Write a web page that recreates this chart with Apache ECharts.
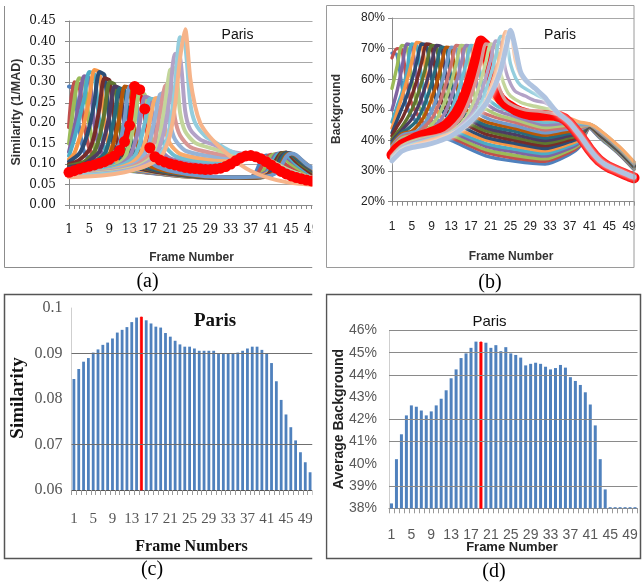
<!DOCTYPE html>
<html><head><meta charset="utf-8">
<script src="https://cdn.jsdelivr.net/npm/echarts@6/dist/echarts.min.js"></script>
<style>html,body{margin:0;padding:0;background:#fff}#c{width:644px;height:585px}</style>
</head><body><div id="c"></div>
<script>
// ---------- shared categories ----------
const frames = ['1','2','3','4','5','6','7','8','9','10','11','12','13','14','15','16','17','18','19','20','21','22','23','24','25','26','27','28','29','30','31','32','33','34','35','36','37','38','39','40','41','42','43','44','45','46','47','48','49','50'];

// ---------- (a) Similarity (1/MAD): one line per key frame, [frame, value] read points ----------
const simKey01 = [[1,.29],[2,.285],[3,.19],[4,.13],[6,.10],[10,.088],[16,.08],[22,.072],[28,.067],[34,.066],[37,.068],[38,.08],[39,.108],[40,.121],[41,.118],[43,.1],[46,.08],[50,.065]];
const simKey02 = [[1,.19],[2,.30],[3,.295],[4,.2],[5,.14],[7,.10],[11,.088],[17,.079],[23,.071],[29,.067],[35,.067],[38,.072],[39,.09],[40,.115],[41,.123],[42,.118],[44,.098],[47,.078],[50,.066]];
const simKey03 = [[1,.15],[2,.25],[3,.31],[4,.305],[5,.2],[6,.14],[8,.10],[12,.087],[18,.078],[24,.07],[30,.067],[36,.067],[39,.075],[40,.095],[41,.12],[42,.125],[43,.12],[45,.1],[48,.078],[50,.067]];
const simKey04 = [[1,.13],[2,.185],[3,.25],[4,.315],[5,.31],[6,.2],[7,.14],[9,.10],[13,.087],[19,.077],[25,.07],[31,.067],[37,.068],[40,.08],[41,.105],[42,.124],[43,.126],[45,.108],[48,.082],[50,.068]];
const simKey05 = [[1,.12],[2,.16],[3,.21],[4,.26],[5,.325],[6,.32],[7,.205],[8,.14],[10,.10],[14,.087],[20,.077],[26,.07],[32,.068],[38,.069],[40,.076],[41,.095],[42,.12],[43,.127],[44,.124],[46,.1],[49,.075],[50,.07]];
const simKey06 = [[1,.112],[2,.125],[3,.16],[4,.2],[5,.26],[6,.33],[7,.325],[8,.21],[9,.14],[11,.10],[15,.086],[21,.076],[27,.069],[33,.067],[38,.068],[41,.082],[42,.108],[43,.126],[44,.128],[46,.108],[49,.078],[50,.071]];
const simKey07 = [[1,.106],[3,.125],[4,.15],[5,.19],[6,.25],[7,.325],[8,.318],[9,.205],[10,.14],[12,.10],[16,.086],[22,.075],[28,.068],[34,.066],[39,.069],[41,.078],[42,.098],[43,.122],[44,.128],[45,.124],[47,.1],[50,.072]];
const simKey08 = [[1,.10],[3,.11],[5,.135],[6,.17],[7,.235],[8,.31],[9,.305],[10,.2],[11,.135],[13,.10],[17,.085],[23,.074],[29,.068],[35,.067],[40,.07],[41,.085],[42,.11],[43,.127],[44,.128],[46,.106],[49,.078],[50,.074]];
const simKey09 = [[1,.096],[4,.106],[6,.13],[7,.165],[8,.225],[9,.30],[10,.295],[11,.195],[12,.132],[14,.098],[18,.084],[24,.073],[30,.068],[36,.067],[40,.071],[41,.08],[42,.1],[43,.124],[44,.128],[45,.124],[47,.1],[50,.076]];
const simKey10 = [[1,.093],[4,.1],[7,.13],[8,.165],[9,.22],[10,.29],[11,.285],[12,.19],[13,.13],[15,.097],[19,.083],[25,.072],[31,.068],[37,.067],[40,.072],[42,.092],[43,.118],[44,.127],[45,.125],[47,.104],[50,.078]];
const simKey11 = [[1,.09],[5,.098],[8,.125],[9,.16],[10,.215],[11,.285],[12,.28],[13,.185],[14,.128],[16,.096],[20,.082],[26,.071],[32,.067],[38,.067],[41,.073],[42,.088],[43,.112],[44,.126],[45,.125],[47,.106],[50,.08]];
const simKey12 = [[1,.087],[5,.095],[9,.125],[10,.16],[11,.215],[12,.29],[13,.285],[14,.185],[15,.128],[17,.096],[21,.081],[27,.07],[33,.067],[39,.068],[42,.08],[43,.1],[44,.122],[45,.126],[46,.12],[48,.1],[50,.082]];
const simKey13 = [[1,.084],[5,.092],[9,.108],[11,.15],[12,.21],[13,.29],[14,.285],[15,.18],[16,.125],[18,.097],[22,.081],[28,.07],[34,.068],[40,.07],[42,.078],[43,.095],[44,.118],[45,.126],[46,.122],[48,.1],[50,.085]];
const simKey14 = [.080,.084,.088,.092,.095,.098,.102,.106,.112,.120,.133,.155,.195,.290,.282,.235,.140,.118,.110,.105,.101,.098,.095,.092,.090,.089,.088,.087,.087,.088,.090,.094,.100,.108,.115,.120,.121,.118,.113,.106,.098,.090,.082,.076,.071,.067,.064,.061,.059,.057];
const simKey15 = [[1,.078],[6,.085],[10,.095],[12,.115],[13,.15],[14,.205],[15,.275],[16,.27],[17,.185],[18,.135],[20,.108],[24,.098],[28,.095],[31,.1],[34,.113],[36,.12],[38,.119],[40,.11],[42,.095],[45,.078],[50,.06]];
const simKey16 = [[1,.077],[7,.085],[11,.097],[13,.118],[14,.15],[15,.2],[16,.265],[17,.26],[18,.18],[19,.138],[21,.114],[25,.104],[29,.1],[32,.105],[35,.118],[37,.122],[39,.115],[42,.096],[45,.079],[50,.061]];
const simKey17 = [[1,.076],[8,.086],[12,.1],[14,.12],[15,.15],[16,.2],[17,.26],[18,.258],[19,.185],[20,.145],[22,.12],[26,.109],[30,.106],[33,.11],[36,.121],[38,.122],[40,.112],[43,.091],[46,.075],[50,.062]];
const simKey18 = [[1,.075],[8,.083],[13,.1],[15,.122],[16,.152],[17,.205],[18,.26],[19,.262],[20,.19],[21,.15],[23,.125],[27,.114],[31,.11],[34,.116],[36,.122],[38,.123],[40,.113],[43,.091],[46,.075],[50,.062]];
const simKey19 = [[1,.074],[9,.084],[14,.1],[16,.125],[17,.157],[18,.213],[19,.27],[20,.275],[21,.2],[22,.16],[24,.133],[28,.121],[32,.117],[35,.121],[37,.124],[39,.118],[42,.099],[45,.081],[50,.063]];
const simKey20 = [[1,.073],[9,.082],[14,.096],[17,.125],[18,.16],[19,.225],[20,.29],[21,.3],[22,.21],[23,.17],[25,.142],[29,.128],[33,.121],[36,.123],[38,.124],[40,.115],[43,.095],[46,.077],[50,.063]];
const simKey21 = [[1,.072],[10,.082],[15,.097],[18,.125],[19,.17],[20,.245],[21,.33],[22,.335],[23,.225],[24,.18],[26,.152],[30,.136],[33,.126],[36,.124],[38,.121],[41,.107],[44,.088],[47,.074],[50,.064]];
const simKey22 = [[1,.071],[10,.08],[15,.094],[18,.117],[19,.145],[20,.19],[21,.27],[22,.37],[23,.36],[24,.23],[25,.185],[27,.16],[30,.146],[33,.131],[36,.124],[38,.12],[41,.105],[44,.085],[47,.072],[50,.062]];
const simKey23 = [[1,.07],[10,.078],[15,.09],[18,.108],[20,.145],[21,.195],[22,.29],[23,.41],[24,.39],[25,.25],[26,.2],[28,.168],[30,.153],[32,.138],[34,.126],[36,.12],[38,.115],[41,.1],[44,.08],[47,.068],[50,.06]];
const simKey24 = [[1,.068],[8,.073],[12,.08],[15,.09],[17,.1],[19,.115],[20,.135],[21,.17],[22,.245],[23,.36],[24,.43],[25,.31],[26,.24],[27,.2],[28,.18],[29,.165],[30,.152],[31,.14],[33,.118],[35,.098],[37,.083],[40,.068],[44,.056],[50,.048]];
const simHighlight = 14;

// ---------- (b) Background (%): one line per key frame ----------
const bgKey01 = [[1,68.5],[2,68],[3,58],[4,51],[6,46],[9,42.5],[13,40.0],[20,35.0],[26,33.2],[32,32.3],[37,35.5],[39,38.0],[41,44.0],[43,41.0],[47,35.5],[50,30.5]];
const bgKey02 = [[1,67],[2,70],[3,69.5],[4,59],[5,52],[8,44.5],[13,41.0],[20,36.1],[26,34.2],[32,33.2],[37,36.2],[39,38.5],[41,44.1],[43,41.2],[47,35.7],[50,30.7]];
const bgKey03 = [[1,57],[2,64],[3,71],[4,70.5],[5,60],[6,52.5],[9,45],[13,41.9],[20,37.0],[26,35.1],[32,34.0],[37,36.9],[39,38.9],[41,44.2],[43,41.3],[47,35.8],[50,30.8]];
const bgKey04 = [[1,50],[2,56],[3,63.5],[4,71.5],[5,71],[6,60.5],[7,53],[9,46.5],[13,42.9],[20,38.1],[26,36.2],[32,34.9],[37,37.5],[39,39.4],[41,44.2],[43,41.5],[47,36.0],[50,31.0]];
const bgKey05 = [[1,46],[2,51],[3,55.5],[4,62.5],[5,71.5],[6,71],[7,60.5],[8,53],[10,47],[13,43.8],[20,39.0],[26,37.1],[32,35.7],[37,38.2],[39,39.9],[41,44.3],[43,41.6],[47,36.1],[50,31.1]];
const bgKey06 = [[1,44],[2,49],[3,54],[4,59.5],[5,65.5],[6,72],[7,71.5],[8,61],[9,53.5],[11,47.5],[13,44.8],[20,40.1],[26,38.1],[32,36.6],[37,38.9],[39,40.4],[41,44.4],[43,41.8],[47,36.3],[50,31.3]];
const bgKey07 = [[1,42.5],[2,46.5],[3,50.5],[4,54.5],[5,59.5],[6,65.5],[7,71.5],[8,71],[9,60.5],[10,53],[12,48],[14,45.5],[20,41.0],[26,39.0],[32,37.4],[37,39.6],[39,40.8],[41,44.5],[43,41.9],[47,36.4],[50,31.4]];
const bgKey08 = [[1,41.5],[2,44.5],[3,47],[4,50.5],[5,54.5],[6,59.5],[7,65.5],[8,71.5],[9,71],[10,60.5],[11,53],[13,48],[15,46],[20,42.1],[26,40.0],[32,38.3],[37,40.3],[39,41.3],[41,44.6],[43,42.0],[47,36.6],[50,31.6]];
const bgKey09 = [[1,40.5],[3,44.5],[4,47],[5,50],[6,54],[7,59],[8,65],[9,71],[10,70.5],[11,60],[12,52.5],[14,48],[16,46],[20,43.1],[26,40.9],[32,39.1],[37,40.9],[39,41.8],[41,44.6],[43,42.2],[47,36.7],[50,31.7]];
const bgKey10 = [[1,39.8],[3,43.3],[5,47],[6,50],[7,54],[8,59],[9,65],[10,71],[11,70.5],[12,60],[13,52.5],[15,48.5],[20,44.1],[26,41.9],[32,40.0],[37,41.6],[39,42.2],[41,44.7],[43,42.4],[47,36.9],[50,31.9]];
const bgKey11 = [[1,39.2],[3,42.7],[4,43.5],[6,46.5],[7,49.5],[8,53.5],[9,58.5],[10,64.5],[11,70.5],[12,70],[13,59.5],[14,52],[16,48.5],[20,45.0],[26,42.9],[32,40.8],[37,42.3],[39,42.7],[41,44.8],[43,42.5],[47,37.0],[50,32.0]];
const bgKey12 = [[1,38.7],[3,42.2],[5,43],[7,46.5],[8,49.5],[9,53.5],[10,58.5],[11,64.5],[12,70.5],[13,70],[14,59.5],[15,52],[17,48.8],[20,46.1],[26,43.9],[32,41.7],[37,43.0],[39,43.2],[41,44.9],[43,42.7],[47,37.2],[50,32.2]];
const bgKey13 = [[1,38.2],[3,41.7],[6,43],[8,46.5],[9,49.5],[10,53.5],[11,58.5],[12,64.5],[13,70.5],[14,70],[15,59.5],[16,52.5],[18,49.3],[21,46.7],[26,44.8],[32,42.5],[37,43.7],[39,43.6],[41,45.0],[43,42.8],[47,37.3],[50,32.3]];
const bgKey14 = [[1,37.7],[3,41.2],[6,42.3],[7,43.5],[9,47],[10,50],[11,54],[12,59],[13,65],[14,71],[15,70.5],[16,60],[17,53],[19,49.5],[22,47.5],[26,45.9],[32,43.4],[37,44.3],[39,44.1],[41,45.0],[43,43.0],[47,37.5],[50,32.5]];
const bgKey15 = [[1,37.2],[3,40.7],[6,41.9],[8,43.5],[10,47],[11,50],[12,54],[13,59],[14,65],[15,71],[16,70.5],[17,60],[18,53.5],[20,50.3],[23,48],[26,46.8],[32,44.2],[37,45.0],[39,44.6],[41,45.1],[43,43.1],[47,37.6],[50,32.6]];
const bgKey16 = [[1,36.8],[3,40.2],[6,41.5],[9,43.5],[11,47],[12,50],[13,54],[14,59],[15,65],[16,71],[17,70.5],[18,60],[19,54],[21,51],[23,49.3],[26,47.8],[32,45.1],[37,45.7],[39,45.1],[41,45.2],[43,43.2],[47,37.8],[50,32.8]];
const bgKey17 = [[1,36.4],[3,39.8],[6,41.2],[10,43.5],[12,47],[13,50],[14,54],[15,59],[16,65],[17,71],[18,70.5],[19,60.5],[20,54.5],[22,51.5],[24,50],[26,48.7],[32,45.9],[37,46.4],[39,45.5],[41,45.3],[43,43.4],[47,37.9],[50,32.9]];
const bgKey18 = [[1,36],[3,39.4],[6,40.8],[11,44],[13,47.5],[14,50.5],[15,54.5],[16,59.5],[17,65.5],[18,71.5],[19,71],[20,61],[21,55],[23,52],[25,50.3],[28,48.8],[32,46.8],[37,47.1],[39,46.0],[41,45.4],[43,43.5],[47,38.0],[50,33.0]];
const bgKey19 = [35.3,37.3,38.6,39.3,40.2,41.0,41.5,42.0,42.6,43.2,44.0,45.0,46.6,48.8,51.8,55.5,60.5,66.5,72.5,71.0,62.0,56.0,53.5,52.0,51.0,50.0,49.3,48.8,48.4,48.2,48.2,48.3,48.3,48.2,47.8,47.0,45.5,43.6,41.6,39.4,37.1,35.1,33.4,32.2,31.2,30.5,29.8,29.1,28.4,27.8];
const bgKey20 = [[1,35],[3,38.3],[6,40.3],[11,42],[13,44],[15,47.5],[16,50.5],[17,54.5],[18,59.5],[19,65.5],[20,71.5],[21,71],[22,61],[23,56],[24,53],[26,51],[28,50],[31,49.5],[33,49],[35,48.3],[37,45.8],[39,41.8],[41,37.2],[43,33.5],[46,30.8],[50,28.2]];
const bgKey21 = [[1,34.6],[3,38],[6,40],[12,42],[14,44],[16,47.5],[17,50.5],[18,54.5],[19,59.5],[20,65.5],[21,71.5],[22,71],[23,62],[24,57],[25,54.5],[27,52.5],[29,51.5],[32,50.5],[34,50],[36,47.2],[38,43.8],[40,39.5],[42,35.2],[44,32.3],[47,30],[50,28]];
const bgKey22 = [[1,34.3],[3,37.7],[6,39.6],[13,42.5],[15,45],[17,48.5],[18,51.5],[19,55.5],[20,60.5],[21,66.5],[22,72.5],[23,72],[24,63],[25,58.5],[26,56],[28,54.5],[30,53],[32,52.3],[34,50],[36,47.2],[38,43.8],[40,39.5],[42,35.2],[44,32.3],[47,30],[50,28]];
const bgKey23 = [[1,34],[3,37.3],[6,39.2],[14,43],[16,45.5],[18,49],[19,52],[20,56.5],[21,61.5],[22,67.5],[23,74],[24,73.5],[25,65],[26,60.5],[27,58],[29,56],[31,54.3],[33,52.5],[34,50],[36,47.2],[38,43.8],[40,39.5],[42,35.2],[44,32.3],[47,30],[50,28]];
const bgKey24 = [[1,33.7],[3,37],[6,38.8],[15,43.5],[17,46],[19,50],[20,53],[21,57.5],[22,62.5],[23,68.5],[24,75.5],[25,75],[26,66],[27,61.5],[28,59.5],[30,57],[31,55.5],[33,51.8],[35,48.3],[37,45.8],[39,41.8],[41,37.2],[43,33.5],[45,31.4],[47,30],[50,28]];
const bgKey25 = [[1,33.4],[2,35],[3,36.5],[5,37.7],[8,38.6],[10,39.5],[13,41.5],[16,45],[18,48],[20,52],[21,55],[22,58.5],[23,63],[24,69.5],[25,76],[26,70],[27,62.5],[28,59.8],[29,58.3],[30,57],[31,55.5],[32,54],[33,51.8],[34,50],[35,48.3],[36,47.2],[37,45.8],[38,43.8],[39,41.8],[40,39.5],[41,37.2],[42,35.2],[43,33.5],[44,32.3],[45,31.4],[46,30.7],[47,30.0],[48,29.3],[49,28.6],[50,28.0]];
const bgHighlight = 19;

// ---------- (c) Similarity per frame ----------
const cSimilarity = [0.0844,0.0866,0.0882,0.0890,0.0902,0.0909,0.0919,0.0924,0.0933,0.0946,0.0952,0.0958,0.0969,0.0979,0.0981,0.0973,0.0966,0.0959,0.0957,0.0945,0.0937,0.0928,0.0920,0.0915,0.0915,0.0911,0.0906,0.0906,0.0906,0.0906,0.0900,0.0900,0.0900,0.0900,0.0902,0.0906,0.0911,0.0915,0.0915,0.0908,0.0899,0.0879,0.0839,0.0798,0.0766,0.0738,0.0709,0.0683,0.0661,0.0639];
const cHighlight = 15;
const cGridValues = [0.09, 0.07];

// ---------- (d) Average background per frame (%) ----------
const dBackground = [38.22,40.21,41.33,42.18,42.63,42.57,42.40,42.18,42.36,42.63,42.93,43.31,43.85,44.25,44.76,44.97,45.22,45.50,45.50,45.45,45.22,45.34,45.07,45.25,44.97,44.90,44.78,44.43,44.50,44.55,44.50,44.37,44.25,44.31,44.45,44.33,43.90,43.73,43.55,43.22,42.67,41.73,40.21,38.85,38.05,38.05,38.05,38.05,38.05,38.05];
const dHighlight = 19;
const dGridValues = [46, 45, 44, 42, 41, 39];

// ---------- styling ----------
const excelPalette = ['#4F81BD','#C0504D','#9BBB59','#8064A2','#4BACC6','#F79646',
  '#2C4D75','#772C2A','#5F7530','#4D3B62','#276A7C','#B65708',
  '#729ACA','#CD7371','#AFC97A','#9983B5','#6FBDD1','#F9AB6B',
  '#95B3D7','#D99694','#C3D69B','#B3A2C7','#93CDDD','#F6B48A','#AFC3E0'];
const RED = '#FF0000';

const simLines = [simKey01,simKey02,simKey03,simKey04,simKey05,simKey06,simKey07,simKey08,simKey09,simKey10,simKey11,simKey12,simKey13,simKey14,simKey15,simKey16,simKey17,simKey18,simKey19,simKey20,simKey21,simKey22,simKey23,simKey24];
const bgLines = [bgKey01,bgKey02,bgKey03,bgKey04,bgKey05,bgKey06,bgKey07,bgKey08,bgKey09,bgKey10,bgKey11,bgKey12,bgKey13,bgKey14,bgKey15,bgKey16,bgKey17,bgKey18,bgKey19,bgKey20,bgKey21,bgKey22,bgKey23,bgKey24,bgKey25];

function toPoints(arr) {
  return arr.map((p, i) => Array.isArray(p) ? [p[0] - 1, p[1]] : [i, p]);
}

const series = [];
simLines.forEach((arr, i) => {
  const k = i + 1;
  const hi = k === simHighlight;
  series.push({
    type: 'line', xAxisIndex: 0, yAxisIndex: 0, data: toPoints(arr),
    smooth: hi ? false : 0.25, silent: true, animation: false,
    symbol: hi ? 'circle' : 'none', symbolSize: hi ? 11 : 0, showSymbol: hi, showAllSymbol: true,
    lineStyle: { width: hi ? 6 : 4, color: hi ? RED : excelPalette[i], join: 'round', cap: 'round' },
    itemStyle: { color: hi ? RED : excelPalette[i] }
  });
});
bgLines.forEach((arr, i) => {
  const k = i + 1;
  const hi = k === bgHighlight;
  const last = k === bgLines.length;
  series.push({
    type: 'line', xAxisIndex: 1, yAxisIndex: 1, data: toPoints(arr),
    smooth: hi ? false : 0.25, silent: true, animation: false,
    symbol: 'none', showSymbol: false,
    lineStyle: hi ? { width: 11, color: RED, join: 'round', cap: 'round' }
      : last ? { width: 5, color: excelPalette[i], join: 'round', cap: 'round', shadowColor: '#ffffff', shadowBlur: 4 }
      : { width: 3.4, color: excelPalette[i], join: 'round', cap: 'round' },
    itemStyle: { color: hi ? RED : excelPalette[i] }
  });
});
series.push({
  type: 'bar', xAxisIndex: 2, yAxisIndex: 2, barWidth: 2.8, silent: true, animation: false,
  itemStyle: { color: '#4F81BD' },
  data: cSimilarity.map((v, i) => i + 1 === cHighlight ? { value: v, itemStyle: { color: RED, borderColor: RED, borderWidth: 0.8 } } : v),
  markLine: { silent: true, symbol: 'none', label: { show: false }, animation: false,
    lineStyle: { color: '#6f6f6f', width: 1.2, type: 'solid' },
    data: cGridValues.map(v => ({ yAxis: v })) }
});
series.push({
  type: 'bar', xAxisIndex: 3, yAxisIndex: 3, barWidth: 3, silent: true, animation: false,
  itemStyle: { color: '#4F81BD' },
  data: dBackground.map((v, i) => i + 1 === dHighlight ? { value: v, itemStyle: { color: RED, borderColor: RED, borderWidth: 0.8 } } : v),
  markLine: { silent: true, symbol: 'none', label: { show: false }, animation: false,
    lineStyle: { color: '#8a8a8a', width: 1.2, type: 'solid' },
    data: dGridValues.map(v => ({ yAxis: v })) }
});

function catAxis(grid, opts) {
  return Object.assign({
    type: 'category', gridIndex: grid, data: frames,
    splitLine: { show: false }
  }, opts);
}

const SERIF = 'Liberation Serif';
const SANS = 'Liberation Sans';

const option = {
  animation: false,
  backgroundColor: '#ffffff',
  grid: [
    { left: 69, top: 21, width: 247.5, height: 184, outerBoundsMode: 'none', containLabel: false },
    { left: 392, top: 18, width: 242, height: 183.7, outerBoundsMode: 'none', containLabel: false },
    { left: 71.5, top: 308, width: 241, height: 182, outerBoundsMode: 'none', containLabel: false },
    { left: 389, top: 330.5, width: 248.5, height: 177.8, outerBoundsMode: 'none', containLabel: false }
  ],
  xAxis: [
    catAxis(0, { boundaryGap: false,
      axisLine: { lineStyle: { color: '#8a8a8a', width: 1 } },
      axisTick: { show: true, interval: 0, length: 4, lineStyle: { color: '#8a8a8a' } },
      axisLabel: { interval: 3, margin: 19, fontFamily: 'DejaVu Serif', fontSize: 12, color: '#111' } }),
    catAxis(1, { boundaryGap: false,
      axisLine: { lineStyle: { color: '#8a8a8a', width: 1 } },
      axisTick: { show: true, interval: 0, length: 4, lineStyle: { color: '#8a8a8a' } },
      axisLabel: { interval: 3, margin: 19, fontFamily: SANS, fontSize: 12, color: '#222' } }),
    catAxis(2, { boundaryGap: true,
      axisLine: { lineStyle: { color: '#555', width: 1.2 } },
      axisTick: { show: true, interval: 0, length: 5, lineStyle: { color: '#9a9a9a' } },
      axisLabel: { interval: 3, margin: 22, fontFamily: SERIF, fontSize: 15, color: '#555' } }),
    catAxis(3, { boundaryGap: true,
      axisLine: { lineStyle: { color: '#8a8a8a', width: 1.2 } },
      axisTick: { show: true, interval: 0, length: 5, lineStyle: { color: '#9a9a9a' } },
      axisLabel: { interval: 3, margin: 20, fontFamily: SANS, fontSize: 14, color: '#595959' } })
  ],
  yAxis: [
    { type: 'value', gridIndex: 0, min: 0, max: 0.45, interval: 0.05,
      axisLine: { show: true, lineStyle: { color: '#8a8a8a' } },
      axisTick: { show: true, length: 4, lineStyle: { color: '#8a8a8a' } },
      axisLabel: { margin: 13, fontFamily: 'DejaVu Serif', fontSize: 12, color: '#111', formatter: v => v.toFixed(2) },
      splitLine: { show: true, lineStyle: { color: '#a8a8a8', width: 1 } } },
    { type: 'value', gridIndex: 1, min: 20, max: 80, interval: 10,
      axisLine: { show: true, lineStyle: { color: '#8a8a8a' } },
      axisTick: { show: true, length: 4, lineStyle: { color: '#8a8a8a' } },
      axisLabel: { margin: 7, fontFamily: SANS, fontSize: 12, color: '#222', formatter: '{value}%' },
      splitLine: { show: true, lineStyle: { color: '#a8a8a8', width: 1 } } },
    { type: 'value', gridIndex: 2, min: 0.06, max: 0.1, interval: 0.01,
      axisLine: { show: true, lineStyle: { color: '#cfcfcf' } },
      axisTick: { show: false },
      axisLabel: { margin: 9, fontFamily: SERIF, fontSize: 16, color: '#555', formatter: v => String(Number(v.toFixed(2))) },
      splitLine: { show: false } },
    { type: 'value', gridIndex: 3, min: 38, max: 46, interval: 1,
      axisLine: { show: true, lineStyle: { color: '#cfcfcf' } },
      axisTick: { show: false },
      axisLabel: { margin: 12, fontFamily: SANS, fontSize: 14, color: '#595959', formatter: '{value}%' },
      splitLine: { show: false } }
  ],
  series: series,
  graphic: [
    // panel frames
    { type: 'polyline', z: 50, shape: { points: [[4.5, 6], [4.5, 267.5], [312.5, 267.5]] }, style: { stroke: '#8c8c8c', lineWidth: 1, fill: null } },
    { type: 'rect', z: 50, shape: { x: 326.5, y: 5.5, width: 307.5, height: 262 }, style: { stroke: '#9a9a9a', lineWidth: 1, fill: null } },
    { type: 'polyline', z: 50, shape: { points: [[312.5, 294.5], [4.5, 294.5], [4.5, 558.5], [312.5, 558.5]] }, style: { stroke: '#555', lineWidth: 1.5, fill: null } },
    { type: 'rect', z: 50, shape: { x: 326.5, y: 294.5, width: 314, height: 264 }, style: { stroke: '#555', lineWidth: 1.5, fill: null } },
    // crop edge of the left-hand panels
    { type: 'rect', z: 100, shape: { x: 312.5, y: 0, width: 13, height: 585 }, style: { fill: '#ffffff' } },
    // (a) texts
    { type: 'text', z: 60, x: 17, y: 112, rotation: Math.PI / 2, style: { text: 'Similarity (1/MAD)', font: 'bold 12.5px Liberation Sans', fill: '#333', align: 'center', verticalAlign: 'middle' } },
    { type: 'text', z: 60, x: 191.5, y: 258, style: { text: 'Frame Number', font: 'bold 12px Liberation Sans', fill: '#333', align: 'center', verticalAlign: 'middle' } },
    { type: 'text', z: 60, x: 237.5, y: 35, style: { text: 'Paris', font: '14px Liberation Sans', fill: '#111', align: 'center', verticalAlign: 'middle' } },
    { type: 'text', z: 60, x: 147.5, y: 281.5, style: { text: '(a)', font: '20px Liberation Serif', fill: '#000', align: 'center', verticalAlign: 'middle' } },
    // (b) texts
    { type: 'text', z: 60, x: 337, y: 109, rotation: Math.PI / 2, style: { text: 'Background', font: 'bold 12px Liberation Sans', fill: '#333', align: 'center', verticalAlign: 'middle' } },
    { type: 'text', z: 60, x: 511, y: 256.5, style: { text: 'Frame Number', font: 'bold 12px Liberation Sans', fill: '#333', align: 'center', verticalAlign: 'middle' } },
    { type: 'text', z: 60, x: 560, y: 35, style: { text: 'Paris', font: '14px Liberation Sans', fill: '#111', align: 'center', verticalAlign: 'middle' } },
    { type: 'text', z: 60, x: 490, y: 283, style: { text: '(b)', font: '20px Liberation Serif', fill: '#000', align: 'center', verticalAlign: 'middle' } },
    // (c) texts
    { type: 'text', z: 60, x: 18.5, y: 398, rotation: Math.PI / 2, style: { text: 'Similarity', font: 'bold 19px Liberation Serif', fill: '#111', align: 'center', verticalAlign: 'middle' } },
    { type: 'text', z: 60, x: 191.5, y: 546.5, style: { text: 'Frame Numbers', font: 'bold 16px Liberation Serif', fill: '#111', align: 'center', verticalAlign: 'middle' } },
    { type: 'text', z: 60, x: 215, y: 321.5, style: { text: 'Paris', font: 'bold 19px Liberation Serif', fill: '#111', align: 'center', verticalAlign: 'middle' } },
    { type: 'text', z: 60, x: 152, y: 570, style: { text: '(c)', font: '20px Liberation Serif', fill: '#000', align: 'center', verticalAlign: 'middle' } },
    // (d) texts
    { type: 'text', z: 60, x: 339, y: 419, rotation: Math.PI / 2, style: { text: 'Average Background', font: 'bold 14px Liberation Sans', fill: '#222', align: 'center', verticalAlign: 'middle' } },
    { type: 'text', z: 60, x: 512, y: 547, style: { text: 'Frame Number', font: 'bold 13px Liberation Sans', fill: '#222', align: 'center', verticalAlign: 'middle' } },
    { type: 'text', z: 60, x: 489.5, y: 321.5, style: { text: 'Paris', font: '15px Liberation Sans', fill: '#111', align: 'center', verticalAlign: 'middle' } },
    { type: 'text', z: 60, x: 494, y: 571.5, style: { text: '(d)', font: '20px Liberation Serif', fill: '#000', align: 'center', verticalAlign: 'middle' } }
  ]
};

const chart = echarts.init(document.getElementById('c'), null, { renderer: 'canvas' });
chart.setOption(option);
</script>
</body></html>
